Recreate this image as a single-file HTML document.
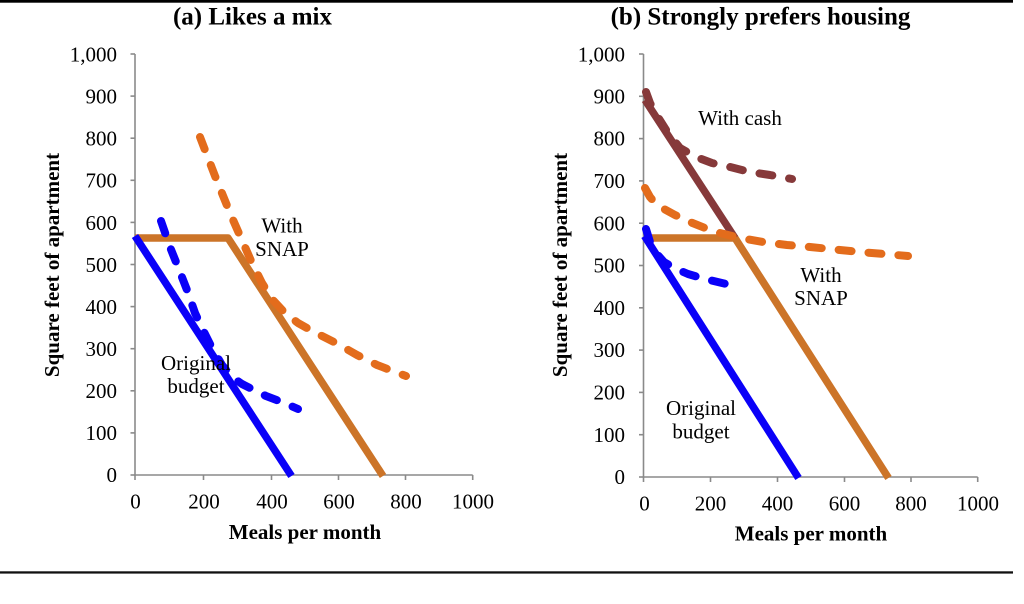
<!DOCTYPE html>
<html>
<head>
<meta charset="utf-8">
<style>
  html, body { margin:0; padding:0; background:#fff; }
  body { width:1024px; height:604px; overflow:hidden; }
  svg { display:block; }
  text { font-family: "Liberation Serif", "Times New Roman", serif; fill:#000; }
</style>
</head>
<body>
<svg width="1024" height="604" viewBox="0 0 1024 604" xmlns="http://www.w3.org/2000/svg">
  <!-- frame rules -->
  <rect x="0" y="0" width="1013" height="2.7" fill="#000"/>
  <rect x="0" y="571.3" width="1013" height="2.3" fill="#111"/>

  <!-- titles -->
  <text x="252.5" y="24.5" font-size="25" font-weight="bold" text-anchor="middle">(a) Likes a mix</text>
  <text x="760.5" y="24.5" font-size="25" font-weight="bold" text-anchor="middle">(b) Strongly prefers housing</text>

  <!-- ===== LEFT CHART ===== -->
  <g stroke="#8a8a8a" stroke-width="1.6" fill="none">
    <line x1="135" y1="54" x2="135" y2="475.8"/>
    <line x1="134.2" y1="475" x2="472.7" y2="475"/>
    <line x1="130.5" y1="475" x2="135" y2="475"/>
    <line x1="130.5" y1="432.9" x2="135" y2="432.9"/>
    <line x1="130.5" y1="390.8" x2="135" y2="390.8"/>
    <line x1="130.5" y1="348.7" x2="135" y2="348.7"/>
    <line x1="130.5" y1="306.6" x2="135" y2="306.6"/>
    <line x1="130.5" y1="264.5" x2="135" y2="264.5"/>
    <line x1="130.5" y1="222.4" x2="135" y2="222.4"/>
    <line x1="130.5" y1="180.3" x2="135" y2="180.3"/>
    <line x1="130.5" y1="138.2" x2="135" y2="138.2"/>
    <line x1="130.5" y1="96.1" x2="135" y2="96.1"/>
    <line x1="130.5" y1="54" x2="135" y2="54"/>
    <line x1="135" y1="475" x2="135" y2="480"/>
    <line x1="203.5" y1="475" x2="203.5" y2="480"/>
    <line x1="271.5" y1="475" x2="271.5" y2="480"/>
    <line x1="338.5" y1="475" x2="338.5" y2="480"/>
    <line x1="405.5" y1="475" x2="405.5" y2="480"/>
    <line x1="472.7" y1="475" x2="472.7" y2="480"/>
  </g>
  <g font-size="21" text-anchor="end">
    <text x="117" y="482">0</text>
    <text x="117" y="440">100</text>
    <text x="117" y="398">200</text>
    <text x="117" y="356">300</text>
    <text x="117" y="314">400</text>
    <text x="117" y="272">500</text>
    <text x="117" y="230">600</text>
    <text x="117" y="187.5">700</text>
    <text x="117" y="145.5">800</text>
    <text x="117" y="103.5">900</text>
    <text x="117" y="61.5">1,000</text>
  </g>
  <g font-size="21" text-anchor="middle">
    <text x="135.5" y="508.5">0</text>
    <text x="204" y="508.5">200</text>
    <text x="272" y="508.5">400</text>
    <text x="339" y="508.5">600</text>
    <text x="406" y="508.5">800</text>
    <text x="473" y="508.5">1000</text>
  </g>
  <text x="305" y="539" font-size="21" font-weight="bold" text-anchor="middle">Meals per month</text>
  <text transform="translate(59,265) rotate(-90)" font-size="21" font-weight="bold" text-anchor="middle">Square feet of apartment</text>

  <!-- left series -->
  <g fill="none" stroke-width="7.5" stroke-linejoin="round">
    <polyline points="135,238 228,238 383,476" stroke="#CC7428"/>
    <polyline points="135,236 291.5,476" stroke="#0A00F8"/>
  </g>
  <g fill="none" stroke-width="8" stroke-linecap="round" stroke-linejoin="round" stroke-dasharray="13 17">
    <polyline points="200,137 215,176 230,213 241,238 252,263 262,283 272,299 284,312 298,323 314,332 336,343 357,355 377,365 406,376" stroke="#E36C1C"/>
    <polyline points="161,221 170,247 178,267 187,290 195,313 203,330 212,348 222,365 232,377 242,384 252,389 266,396 282,402 298,409" stroke="#0A00F8"/>
  </g>
  <g font-size="21" text-anchor="middle">
    <text x="282" y="232.5">With</text>
    <text x="282" y="256">SNAP</text>
    <text x="196" y="370">Original</text>
    <text x="196" y="393">budget</text>
  </g>

  <!-- ===== RIGHT CHART ===== -->
  <g stroke="#8a8a8a" stroke-width="1.6" fill="none">
    <line x1="643.5" y1="54" x2="643.5" y2="477.8"/>
    <line x1="642.7" y1="477" x2="977.7" y2="477"/>
    <line x1="639" y1="477" x2="643.5" y2="477"/>
    <line x1="639" y1="434.7" x2="643.5" y2="434.7"/>
    <line x1="639" y1="392.4" x2="643.5" y2="392.4"/>
    <line x1="639" y1="350.1" x2="643.5" y2="350.1"/>
    <line x1="639" y1="307.8" x2="643.5" y2="307.8"/>
    <line x1="639" y1="265.5" x2="643.5" y2="265.5"/>
    <line x1="639" y1="223.2" x2="643.5" y2="223.2"/>
    <line x1="639" y1="180.9" x2="643.5" y2="180.9"/>
    <line x1="639" y1="138.6" x2="643.5" y2="138.6"/>
    <line x1="639" y1="96.3" x2="643.5" y2="96.3"/>
    <line x1="639" y1="54" x2="643.5" y2="54"/>
    <line x1="643.5" y1="477" x2="643.5" y2="482"/>
    <line x1="710.5" y1="477" x2="710.5" y2="482"/>
    <line x1="777.5" y1="477" x2="777.5" y2="482"/>
    <line x1="844.5" y1="477" x2="844.5" y2="482"/>
    <line x1="911" y1="477" x2="911" y2="482"/>
    <line x1="977.7" y1="477" x2="977.7" y2="482"/>
  </g>
  <g font-size="21" text-anchor="end">
    <text x="625" y="484">0</text>
    <text x="625" y="442">100</text>
    <text x="625" y="399.5">200</text>
    <text x="625" y="357">300</text>
    <text x="625" y="315">400</text>
    <text x="625" y="272.5">500</text>
    <text x="625" y="230.5">600</text>
    <text x="625" y="188">700</text>
    <text x="625" y="145.5">800</text>
    <text x="625" y="103.5">900</text>
    <text x="625" y="61.5">1,000</text>
  </g>
  <g font-size="21" text-anchor="middle">
    <text x="644.5" y="510.5">0</text>
    <text x="710.5" y="510.5">200</text>
    <text x="777.5" y="510.5">400</text>
    <text x="844.5" y="510.5">600</text>
    <text x="911" y="510.5">800</text>
    <text x="978" y="510.5">1000</text>
  </g>
  <text x="811" y="540.5" font-size="21" font-weight="bold" text-anchor="middle">Meals per month</text>
  <text transform="translate(567,265) rotate(-90)" font-size="21" font-weight="bold" text-anchor="middle">Square feet of apartment</text>

  <!-- right series -->
  <g fill="none" stroke-width="7.5" stroke-linejoin="round">
    <polyline points="644.5,238 735,238 888.5,478" stroke="#CC7428"/>
    <polyline points="644.5,236 798.5,478" stroke="#0A00F8"/>
    <polyline points="645,100 735,238" stroke="#86393A"/>
  </g>
  <g fill="none" stroke-width="8" stroke-linecap="round" stroke-linejoin="round" stroke-dasharray="13 17">
    <polyline points="645,188 650,197 656,204 664,209 675,215 690,222 705,228 720,233 740,238 763,242 787,245 810,247 830,249 860,252 908,256" stroke="#E36C1C"/>
    <polyline points="646,229 650,242 656,253 664,262 674,268 688,274 705,279 722,283 738,287" stroke="#0A00F8"/>
    <polyline points="646,92 650,103 656,114 668,133 680,148 696,157 712,163 730,167 750,172 770,175 792,179" stroke="#86393A"/>
  </g>
  <g font-size="21" text-anchor="middle">
    <text x="740" y="125">With cash</text>
    <text x="821" y="282">With</text>
    <text x="821" y="305">SNAP</text>
    <text x="701" y="415">Original</text>
    <text x="701" y="438.5">budget</text>
  </g>
</svg>
</body>
</html>
